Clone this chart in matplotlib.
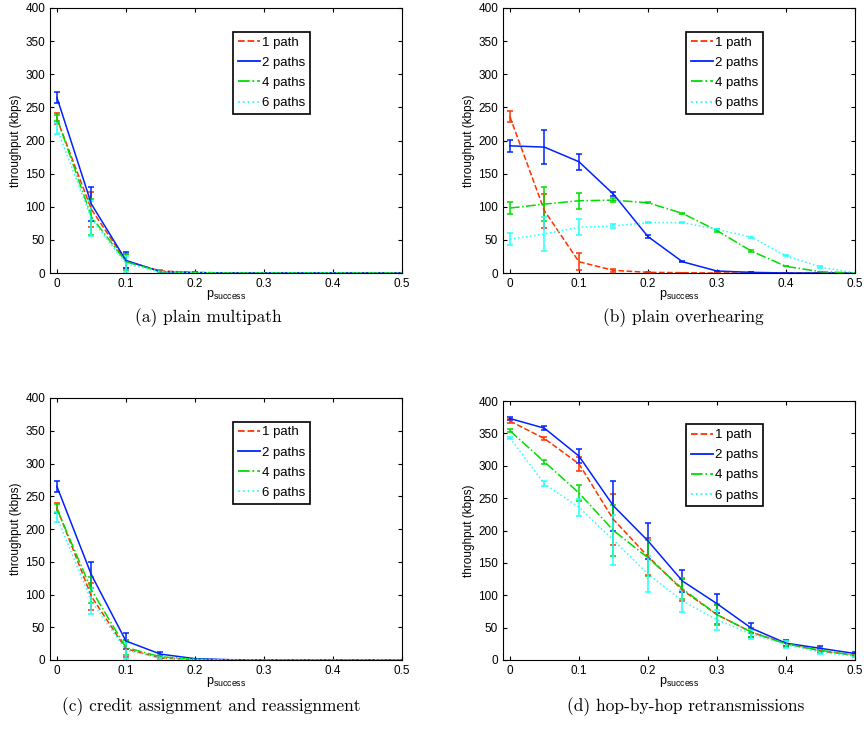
import matplotlib
matplotlib.use('Agg')
import matplotlib.pyplot as plt
from matplotlib.lines import Line2D

plt.rcParams['font.family'] = ['Liberation Sans', 'DejaVu Sans']

p_success = [0, 0.05, 0.1, 0.15, 0.2, 0.25, 0.3, 0.35, 0.4, 0.45, 0.5]
labels = ['1 path', '2 paths', '4 paths', '6 paths']

# (a) plain multipath
a_mean = {
    '1 path':  [233, 96, 18, 3, 1, 0, 0, 0, 0, 0, 0],
    '2 paths': [265, 104, 19, 2, 0.5, 0, 0, 0, 0, 0, 0],
    '4 paths': [234, 85, 17, 2, 0.5, 0, 0, 0, 0, 0, 0],
    '6 paths': [218, 82, 14, 2, 0.5, 0, 0, 0, 0, 0, 0],
}
a_err = {
    '1 path':  [8, 26, 10, 2, 0, 0, 0, 0, 0, 0, 0],
    '2 paths': [8, 26, 12, 1, 0, 0, 0, 0, 0, 0, 0],
    '4 paths': [5, 27, 12, 1, 0, 0, 0, 0, 0, 0, 0],
    '6 paths': [8, 26, 12, 1, 0, 0, 0, 0, 0, 0, 0],
}

# (b) plain overhearing
b_mean = {
    '1 path':  [236, 94, 17, 4, 1, 0.5, 0, 0, 0, 0, 0],
    '2 paths': [192, 190, 168, 119, 55, 17, 3, 1, 0, 0, 0],
    '4 paths': [98, 104, 109, 110, 106, 90, 64, 33, 10, 2, 0],
    '6 paths': [51, 59, 69, 71, 76, 76, 66, 54, 26, 9, 0],
}
b_err = {
    '1 path':  [8, 26, 13, 2, 0, 0, 0, 0, 0, 0, 0],
    '2 paths': [9, 26, 12, 3, 2, 1, 0, 0, 0, 0, 0],
    '4 paths': [9, 26, 12, 3, 1, 1, 2, 1, 0, 0, 0],
    '6 paths': [9, 26, 12, 3, 1, 1, 1, 1, 1, 1, 0],
}

# (c) credit assignment and reassignment
c_mean = {
    '1 path':  [232, 97, 17, 3, 1, 0, 0, 0, 0, 0, 0],
    '2 paths': [265, 130, 29, 9, 2, 0.5, 0, 0, 0, 0, 0],
    '4 paths': [231, 107, 19, 5, 1, 0, 0, 0, 0, 0, 0],
    '6 paths': [218, 90, 15, 3, 1, 0, 0, 0, 0, 0, 0],
}
c_err = {
    '1 path':  [8, 20, 13, 2, 0, 0, 0, 0, 0, 0, 0],
    '2 paths': [8, 20, 12, 3, 0, 0, 0, 0, 0, 0, 0],
    '4 paths': [7, 20, 12, 2, 0, 0, 0, 0, 0, 0, 0],
    '6 paths': [8, 20, 13, 2, 0, 0, 0, 0, 0, 0, 0],
}

# (d) hop-by-hop retransmissions
d_mean = {
    '1 path':  [369, 342, 303, 217, 160, 108, 70, 43, 25, 14, 7],
    '2 paths': [373, 358, 315, 238, 184, 122, 87, 49, 26, 18, 10],
    '4 paths': [354, 306, 258, 200, 158, 110, 70, 43, 25, 15, 7],
    '6 paths': [343, 272, 236, 185, 133, 91, 62, 40, 24, 12, 6],
}
d_err = {
    '1 path':  [3, 3, 11, 39, 29, 17, 15, 7, 5, 3, 2],
    '2 paths': [3, 3, 11, 39, 28, 17, 15, 8, 5, 3, 2],
    '4 paths': [2, 3, 12, 39, 28, 16, 16, 7, 5, 3, 2],
    '6 paths': [2, 4, 13, 39, 28, 17, 15, 7, 5, 3, 2],
}

captions = ['(a) plain multipath', '(b) plain overhearing',
            '(c) credit assignment and reassignment', '(d) hop-by-hop retransmissions']

styles = {
    '1 path':  dict(color='#ff3300', ls='--'),
    '2 paths': dict(color='#0022ff', ls='-'),
    '4 paths': dict(color='#00dd00', ls='-.'),
    '6 paths': dict(color='#22ffff', ls=':'),
}

fig = plt.figure(figsize=(8.64, 7.34), dpi=100)
W, H = 864, 734
boxes = [(50, 8, 402, 273), (503, 8, 855, 273),
         (50, 398, 402, 660), (503, 401, 855, 660)]
panels = [(a_mean, a_err), (b_mean, b_err), (c_mean, c_err), (d_mean, d_err)]
cap_y = [318, 318, 707, 707]
cap_x = [208, 683, 211, 686]

for i, (box, (means, errs)) in enumerate(zip(boxes, panels)):
    l, t, r, b = box
    ax = fig.add_axes([l / W, 1 - b / H, (r - l) / W, (b - t) / H])
    handles = []
    for lab in labels:
        st = styles[lab]
        ax.errorbar(p_success, means[lab], yerr=errs[lab], color=st['color'],
                    ls=st['ls'], lw=1.1, elinewidth=1.1, capsize=2.3, capthick=1.1)
        handles.append(Line2D([], [], color=st['color'], ls=st['ls'], lw=1.3, label=lab))
    ax.set_xlim(-0.01, 0.5)
    ax.set_ylim(0, 400)
    ax.set_xticks([0, 0.1, 0.2, 0.3, 0.4, 0.5])
    ax.set_xticklabels(['0', '0.1', '0.2', '0.3', '0.4', '0.5'])
    ax.set_yticks(range(0, 401, 50))
    ax.tick_params(direction='in', top=True, right=True, labelsize=8.5, length=3)
    ax.set_ylabel('throughput (kbps)', fontsize=8.5, labelpad=2)
    ax.set_xlabel(r'$\mathregular{p_{success}}$', fontsize=9, labelpad=-1)
    leg = ax.legend(handles=handles, loc='upper left', bbox_to_anchor=(0.52, 0.91),
                    borderaxespad=0, fontsize=9.5, fancybox=False, framealpha=1,
                    edgecolor='black', handlelength=1.7, handletextpad=0.15,
                    borderpad=0.35, labelspacing=0.6)
    leg.get_frame().set_linewidth(1.2)
    fig.text(cap_x[i] / W, 1 - cap_y[i] / H, captions[i], ha='center', va='center',
             fontsize=12.5, family='cmr10')

fig.savefig('out.png', dpi=100)
